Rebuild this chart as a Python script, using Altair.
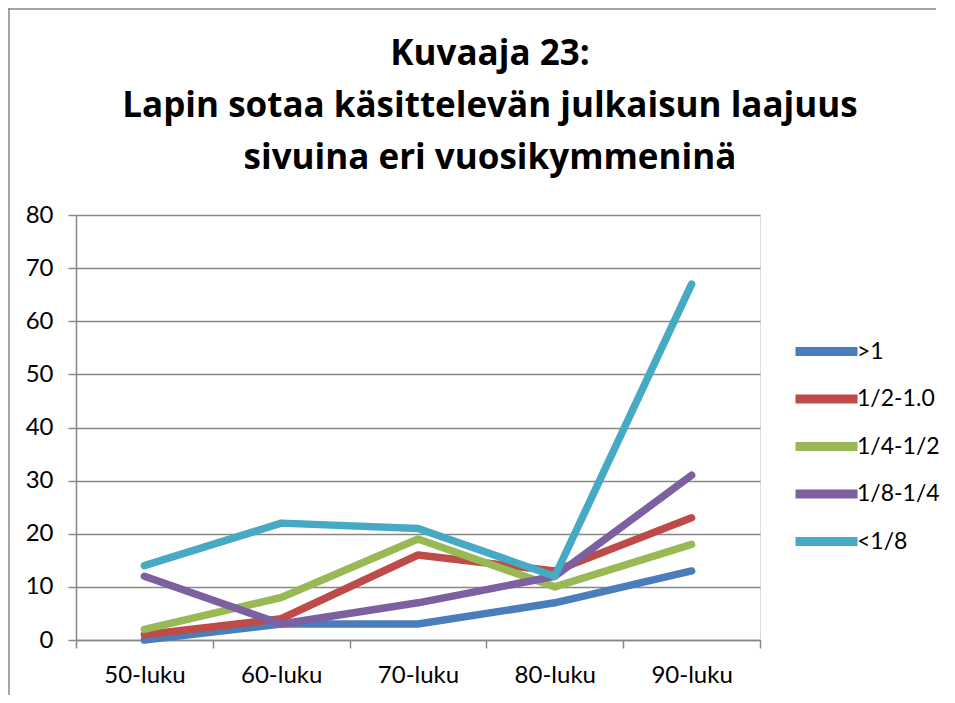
import altair as alt
import pandas as pd

decades = ["50-luku", "60-luku", "70-luku", "80-luku", "90-luku"]
series = [">1", "1/2-1.0", "1/4-1/2", "1/8-1/4", "<1/8"]
v_gt1 = [0, 3, 3, 7, 13]
v_half_1 = [1, 4, 16, 13, 23]
v_quarter_half = [2, 8, 19, 10, 18]
v_eighth_quarter = [12, 3, 7, 12, 31]
v_lt_eighth = [14, 22, 21, 12, 67]
colors = ["#4A7EBB", "#BE4B48", "#98B954", "#7D60A0", "#46AAC5"]

rows = []
for name, vals in zip(series, [v_gt1, v_half_1, v_quarter_half, v_eighth_quarter, v_lt_eighth]):
    for i, (d, v) in enumerate(zip(decades, vals)):
        rows.append({"series": name, "decade": d, "pos": i + 0.5, "value": v})
df = pd.DataFrame(rows)

FONT = "Lato"
TFONT = "Open Sans"
GRID = "#888888"

label_expr = "datum.value % 1 == 0 ? '' : " + "[" + ",".join("'%s'" % d for d in decades) + "][floor(datum.value)]"
tick_vals = [i * 0.5 for i in range(0, 11)]

lines = alt.Chart(df).mark_line(strokeWidth=7.5, strokeCap="round", strokeJoin="round").encode(
    x=alt.X("pos:Q", scale=alt.Scale(domain=[0, 5], nice=False, zero=False),
            axis=alt.Axis(values=tick_vals, labelExpr=label_expr, title=None, grid=False,
                          tickSize=8, tickWidth=1.5, tickColor=GRID, domainColor=GRID, domainWidth=1.5,
                          tickOpacity={"condition": {"test": "datum.value % 1 != 0", "value": 0}, "value": 1},
                          labelFontSize=24, labelFont=FONT, labelColor="black", labelPadding=15,
                          labelFlush=False, labelOverlap=False)),
    y=alt.Y("value:Q", scale=alt.Scale(domain=[0, 80], nice=False),
            axis=alt.Axis(values=list(range(0, 81, 10)), title=None, grid=True, gridColor=GRID, gridWidth=1.5,
                          tickSize=8, tickWidth=1.5, tickColor=GRID, domainColor=GRID, domainWidth=1.5,
                          labelFontSize=24, labelFont=FONT, labelColor="black", labelPadding=15)),
    color=alt.Color("series:N", scale=alt.Scale(domain=series, range=colors),
                    legend=alt.Legend(title=None, orient="none", legendX=736, legendY=122,
                                      symbolType="M-3.1,0H3.1", symbolSize=400, symbolStrokeWidth=9,
                                      labelFontSize=23, labelFont=FONT, labelColor="black",
                                      rowPadding=10.5, labelOffset=16, symbolOffset=0)),
    detail="series:N",
)

frame_df = pd.DataFrame({"k": [0]})
frame_left = alt.Chart(frame_df).mark_rule(color="#888888", strokeWidth=1.5).encode(
    x=alt.value(-67), y=alt.value(-207), y2=alt.value(520))
frame_top = alt.Chart(frame_df).mark_rule(color="#888888", strokeWidth=1.5).encode(
    x=alt.value(-68), x2=alt.value(860), y=alt.value(-206))

chart = alt.layer(frame_left, frame_top, lines).properties(
    width=684, height=425,
    padding={"left": 68, "top": 207, "right": 187, "bottom": 55},
    autosize=alt.AutoSizeParams(type="none"),
    title=alt.Title(["Kuvaaja 23:", "Lapin sotaa käsittelevän julkaisun laajuus", "sivuina eri vuosikymmeninä"],
                    font=TFONT, fontSize=35, fontWeight="bold", color="black", lineHeight=52,
                    anchor="middle", dx=72, offset=0, dy=169),
).configure_view(stroke=None).configure(background="white")

chart.save("out.html", embed_options={"renderer": "svg", "actions": False})
